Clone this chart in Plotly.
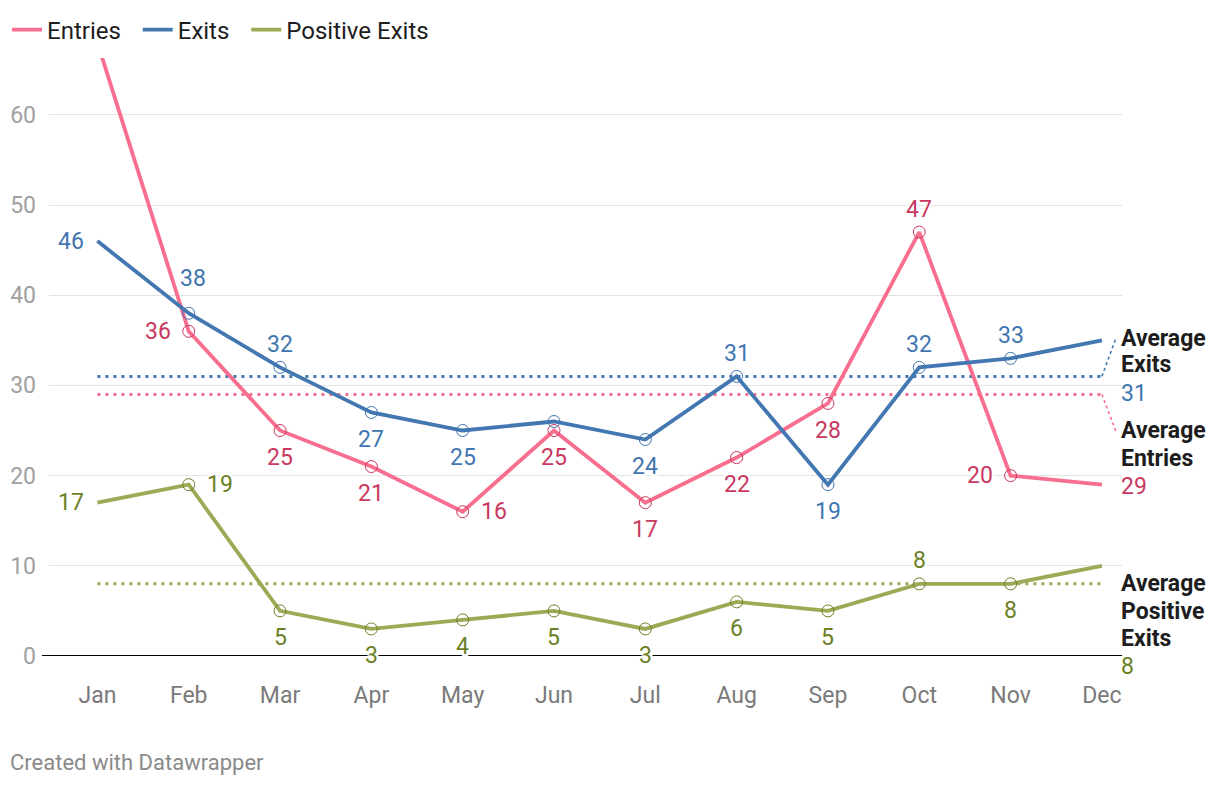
import plotly.graph_objects as go

# ---------------- data ----------------
months = ["Jan", "Feb", "Mar", "Apr", "May", "Jun", "Jul", "Aug", "Sep", "Oct", "Nov", "Dec"]
entries = [68, 36, 25, 21, 16, 25, 17, 22, 28, 47, 20, 19]
exits = [46, 38, 32, 27, 25, 26, 24, 31, 19, 32, 33, 35]
positive_exits = [17, 19, 5, 3, 4, 5, 3, 6, 5, 8, 8, 10]
y_ticks = [0, 10, 20, 30, 40, 50, 60]

# label placement for each point (None = no label)
entries_pos = [None, "left2", "below", "below", "right", "below", "below", "below", "below", "above", "left2", None]
exits_pos = ["left", "above2", "above", "below", "below", None, "below", "above", "below", "above", "above", None]
positive_pos = ["left", "right", "below", "below", "below", "below", "below", "below", "below", "above", "below", None]

# ---------------- styles ----------------
FONT = "Roboto, 'Open Sans', sans-serif"
C_ENT, C_ENT_T = "#f76e8f", "#c8385f"
C_EXI, C_EXI_T = "#4277b1", "#3f76b0"
C_POS, C_POS_T = "#9aaa55", "#6c7f26"

W, H = 1220, 786
ML, MR, MT, MB = 49, 98, 58, 130
X_RANGE = [-0.53, 11.22]
Y_RANGE = [0, 66.3]
plot_w = W - ML - MR
plot_h = H - MT - MB
px_x = plot_w / (X_RANGE[1] - X_RANGE[0])
px_y = plot_h / (Y_RANGE[1] - Y_RANGE[0])

idx = list(range(len(months)))

series = [
    ("Entries", entries, C_ENT, C_ENT_T, entries_pos),
    ("Exits", exits, C_EXI, C_EXI_T, exits_pos),
    ("Positive Exits", positive_exits, C_POS, C_POS_T, positive_pos),
]

fig = go.Figure()

halo = ("-2px -2px 0 #fff, 2px -2px 0 #fff, -2px 2px 0 #fff, 2px 2px 0 #fff, "
        "0 -2px 0 #fff, 0 2px 0 #fff, -2px 0 0 #fff, 2px 0 0 #fff")

# average lines (behind)
averages = {}
for name, vals, col, tcol, _ in series:
    avg = round(sum(vals) / len(vals))
    averages[name] = avg
    fig.add_trace(go.Scatter(
        x=[idx[0], idx[-1]], y=[avg, avg], mode="lines",
        line=dict(color=col, width=3, dash="3px,5px"),
        showlegend=False, hoverinfo="skip"))

# connectors from average line end to right-hand labels
connectors = {"Exits": (14, 38), "Entries": (14, -37)}
for name, vals, col, tcol, _ in series:
    if name in connectors:
        dx, dy = connectors[name]
        avg = averages[name]
        fig.add_trace(go.Scatter(
            x=[idx[-1], idx[-1] + dx / px_x], y=[avg, avg + dy / px_y],
            mode="lines", line=dict(color=col, width=1.6, dash="3px,3px"),
            showlegend=False, hoverinfo="skip", cliponaxis=False))

# main lines
legend_names = {"Entries": "Entries\u00a0\u00a0", "Exits": "Exits\u00a0\u00a0", "Positive Exits": "Positive Exits"}
for name, vals, col, tcol, _ in series:
    fig.add_trace(go.Scatter(
        x=idx, y=vals, mode="lines", name=legend_names[name],
        line=dict(color=col, width=3.8),
        hoverinfo="skip"))

# hollow markers (Feb..Nov)
for name, vals, col, tcol, _ in series:
    fig.add_trace(go.Scatter(
        x=idx[1:-1], y=vals[1:-1], mode="markers",
        marker=dict(symbol="circle-open", size=12, color=tcol, line=dict(width=1, color=tcol)),
        showlegend=False, hoverinfo="skip"))

# value labels
offsets = {
    "above": dict(xshift=0, yshift=23, xanchor="center"),
    "above2": dict(xshift=4, yshift=35, xanchor="center"),
    "below": dict(xshift=0, yshift=-27, xanchor="center"),
    "left": dict(xshift=-11, yshift=0, xanchor="right"),
    "left2": dict(xshift=-16, yshift=0, xanchor="right"),
    "right": dict(xshift=16, yshift=0, xanchor="left"),
}
for name, vals, col, tcol, positions in series:
    for i, (v, p) in enumerate(zip(vals, positions)):
        if p is None:
            continue
        o = offsets[p]
        fig.add_annotation(
            x=idx[i], y=v, text=str(v), showarrow=False,
            xanchor=o["xanchor"], yanchor="middle",
            xshift=o["xshift"], yshift=o["yshift"],
            font=dict(family=FONT, size=23, color=tcol, shadow=halo))

# right-hand average labels (one annotation per text line, offsets in px below the average line)
avg_label_lines = {
    "Exits": [-38, -12, 17.5],
    "Entries": [36, 64, 92],
    "Positive Exits": [0, 27.5, 54.5, 83],
}
for name, vals, col, tcol, _ in series:
    words = ["Average"] + name.split(" ")
    texts = [f"<b>{w}</b>" for w in words] + [str(averages[name])]
    colors = ["#1d1d1d"] * len(words) + [tcol]
    for t, c, off in zip(texts, colors, avg_label_lines[name]):
        fig.add_annotation(
            xref="paper", x=1.0, y=averages[name], yanchor="middle", xanchor="left",
            xshift=-3, yshift=-off, showarrow=False, align="left", text=t,
            font=dict(family=FONT, size=23, color=c))

# footer
fig.add_annotation(
    xref="paper", yref="paper", x=(8 - ML) / plot_w, y=-(762 - (H - MB)) / plot_h,
    xanchor="left", yanchor="middle", showarrow=False,
    text="Created with Datawrapper", font=dict(family=FONT, size=22, color="#8a8a8a"))

# baseline
fig.add_shape(type="line", xref="paper", yref="y", x0=(42 - ML) / plot_w, x1=1, y0=0, y1=0,
              line=dict(color="#000000", width=2), layer="above")

fig.update_layout(
    width=W, height=H,
    margin=dict(l=ML, r=MR, t=MT, b=MB, autoexpand=False),
    paper_bgcolor="white", plot_bgcolor="white",
    font=dict(family=FONT, size=22, color="#222"),
    showlegend=True,
    legend=dict(orientation="h", xref="container", yref="container", x=7 / W, y=1 - 30 / H,
                xanchor="left", yanchor="middle", font=dict(size=24, color="#1d1d1d"),
                itemwidth=30, tracegroupgap=0, bgcolor="rgba(0,0,0,0)"),
    xaxis=dict(range=X_RANGE, tickmode="array", tickvals=idx, ticktext=months,
               showgrid=False, zeroline=False, showline=False, ticks="",
               tickfont=dict(size=23, color="#7a7a7a"), ticklabelstandoff=23),
    yaxis=dict(range=Y_RANGE, tickmode="array", tickvals=y_ticks,
               showgrid=True, gridcolor="#e3e3e3", gridwidth=1.2, zeroline=False,
               showline=False, ticks="", tickfont=dict(size=23, color="#a0a0a0"),
               ticklabelstandoff=12),
)

fig.write_html("out.html", config={"displayModeBar": False},
               post_script="document.body.style.margin='0';")
